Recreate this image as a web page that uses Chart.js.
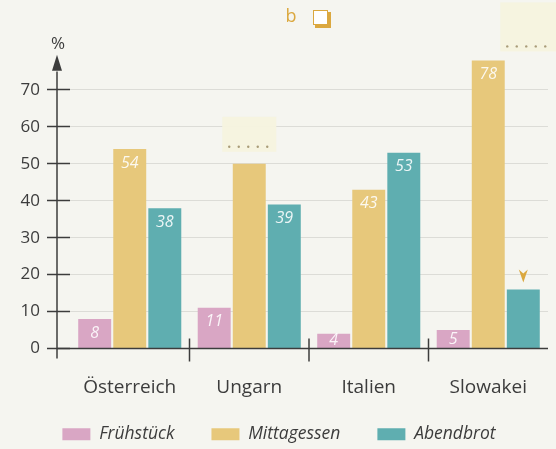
<!DOCTYPE html>
<html lang="de">
<head>
  <meta charset="UTF-8" />
  <title>Mahlzeiten in Europa</title>
  <style>
    html, body {
      margin: 0;
      padding: 0;
      background-color: #f5f5f0;
    }
    #wrap {
      width: 556px;
      height: 449px;
      position: relative;
    }
  </style>
</head>
<body>
  <div id="wrap">
    <canvas id="mealChart"></canvas>
  </div>

  <script src="https://cdn.jsdelivr.net/npm/chart.js"></script>
  <script>
    // Anteil der Hauptmahlzeit (%) pro Land
    const countries = ['Österreich', 'Ungarn', 'Italien', 'Slowakei'];
    const fruehstueck = [8, 11, 4, 5];
    const mittagessen = [54, 50, 43, 78];
    const abendbrot = [38, 39, 53, 16];
    const yTicks = [0, 10, 20, 30, 40, 50, 60, 70];
    // Werte, die im Arbeitsblatt offen bleiben: [Datensatz, Land]
    const blankLabels = [[1, 1], [2, 3]];

    const pink = '#d9a6c4';
    const tan = '#e7c87b';
    const teal = '#5faeb0';
    const ink = '#3c3c3c';
    const accent = '#dba83f';

    const isBlank = (ds, i) => blankLabels.some(b => b[0] === ds && b[1] === i);

    // Achsen mit Pfeil, Länder, Wertbeschriftungen und Lückenfelder
    const decorations = {
      id: 'decorations',
      afterDatasetsDraw(chart) {
        const { ctx, chartArea, scales } = chart;
        const y = scales.y;
        const x = scales.x;
        const axisX = chartArea.left - 13;
        const zeroY = y.getPixelForValue(0);

        ctx.save();
        ctx.strokeStyle = ink;
        ctx.fillStyle = ink;
        ctx.lineWidth = 1.5;

        // y-Achse mit Pfeil
        ctx.beginPath();
        ctx.moveTo(axisX, zeroY + 10);
        ctx.lineTo(axisX, y.getPixelForValue(75));
        ctx.stroke();
        const tip = y.getPixelForValue(79.5);
        ctx.beginPath();
        ctx.moveTo(axisX, tip);
        ctx.lineTo(axisX - 5, tip + 16);
        ctx.lineTo(axisX + 5, tip + 16);
        ctx.closePath();
        ctx.fill();

        ctx.font = '17px "Open Sans"';
        ctx.textAlign = 'center';
        ctx.textBaseline = 'middle';
        ctx.fillText('%', axisX + 1, tip - 11);

        // x-Achse mit Trennstrichen zwischen den Ländern
        ctx.beginPath();
        ctx.moveTo(axisX, zeroY);
        ctx.lineTo(chartArea.right, zeroY);
        ctx.stroke();
        for (let i = 0; i < countries.length - 1; i++) {
          const bx = (x.getPixelForValue(i) + x.getPixelForValue(i + 1)) / 2;
          ctx.beginPath();
          ctx.moveTo(bx, zeroY - 10);
          ctx.lineTo(bx, zeroY + 13);
          ctx.stroke();
        }

        // Ländernamen
        ctx.font = '19px "Open Sans"';
        countries.forEach((name, i) => {
          ctx.fillText(name, x.getPixelForValue(i), zeroY + 39);
        });

        // Werte in den Balken
        ctx.font = 'italic 16px "Open Sans"';
        ctx.fillStyle = 'rgba(255,255,255,0.88)';
        chart.data.datasets.forEach((ds, d) => {
          chart.getDatasetMeta(d).data.forEach((bar, i) => {
            if (isBlank(d, i)) return;
            const cy = Math.min(bar.y + 14, (bar.y + bar.base) / 2);
            ctx.fillText(String(ds.data[i]), bar.x, cy);
          });
        });

        // Lückenfelder zum Ausfüllen
        const gapBox = (left, top, w, h) => {
          ctx.fillStyle = 'rgba(246,243,222,0.95)';
          ctx.fillRect(left, top, w, h);
          ctx.fillStyle = '#a99c78';
          for (let k = 0; k < 5; k++) {
            ctx.beginPath();
            ctx.arc(left + 7 + k * 9.5, top + h - 5, 1.2, 0, Math.PI * 2);
            ctx.fill();
          }
        };
        const ungarnMittag = chart.getDatasetMeta(1).data[1];
        gapBox(ungarnMittag.x - 27, ungarnMittag.y - 47, 54, 35);
        const slowMittag = chart.getDatasetMeta(1).data[3];
        gapBox(slowMittag.x + 12, slowMittag.y - 58, 56, 49);

        // Pfeil auf den offenen Abendbrot-Balken
        const slowAbend = chart.getDatasetMeta(2).data[3];
        const t = slowAbend.y - 20;
        ctx.fillStyle = accent;
        ctx.beginPath();
        ctx.moveTo(slowAbend.x - 4.5, t);
        ctx.lineTo(slowAbend.x, t + 4);
        ctx.lineTo(slowAbend.x + 4.5, t);
        ctx.lineTo(slowAbend.x, t + 13);
        ctx.closePath();
        ctx.fill();

        // Aufgabe b mit Kästchen
        const bx = (chartArea.left + chartArea.right) / 2 - 18;
        ctx.font = '18px "Open Sans"';
        ctx.fillStyle = accent;
        ctx.fillText('b', bx, 17);
        ctx.fillRect(bx + 24, 12, 16, 16);
        ctx.fillStyle = '#ffffff';
        ctx.fillRect(bx + 22, 10, 15, 15);
        ctx.strokeStyle = accent;
        ctx.lineWidth = 1;
        ctx.strokeRect(bx + 22.5, 10.5, 14, 14);

        ctx.restore();
      }
    };

    const ctx = document.getElementById('mealChart').getContext('2d');

    const chart = new Chart(ctx, {
      type: 'bar',
      data: {
        labels: countries,
        datasets: [
          { label: 'Frühstück', data: fruehstueck, backgroundColor: pink },
          { label: 'Mittagessen', data: mittagessen, backgroundColor: tan },
          { label: 'Abendbrot', data: abendbrot, backgroundColor: teal }
        ]
      },
      options: {
        responsive: true,
        maintainAspectRatio: false,
        animation: false,
        categoryPercentage: 0.88,
        barPercentage: 0.94,
        layout: {
          padding: { top: 53, right: 8, bottom: -4, left: 10 }
        },
        plugins: {
          tooltip: { enabled: false },
          legend: {
            position: 'bottom',
            labels: {
              boxWidth: 28,
              boxHeight: 12,
              padding: 37,
              color: ink,
              font: { family: 'Open Sans', size: 17.5, style: 'italic' }
            }
          }
        },
        scales: {
          x: {
            grid: { display: false, drawTicks: false },
            border: { display: false },
            ticks: { display: false },
            afterFit: s => { s.height = 40; }
          },
          y: {
            min: 0,
            max: 80,
            border: { display: false },
            grid: {
              color: 'rgba(0,0,0,0.1)',
              tickColor: ink,
              tickWidth: 1.5,
              tickLength: 23
            },
            ticks: {
              padding: 7,
              color: ink,
              font: { family: 'Open Sans', size: 17 }
            },
            afterBuildTicks: s => { s.ticks = yTicks.map(v => ({ value: v })); },
            afterFit: s => { s.width = 60; }
          }
        }
      },
      plugins: [decorations]
    });
  </script>
</body>
</html>
